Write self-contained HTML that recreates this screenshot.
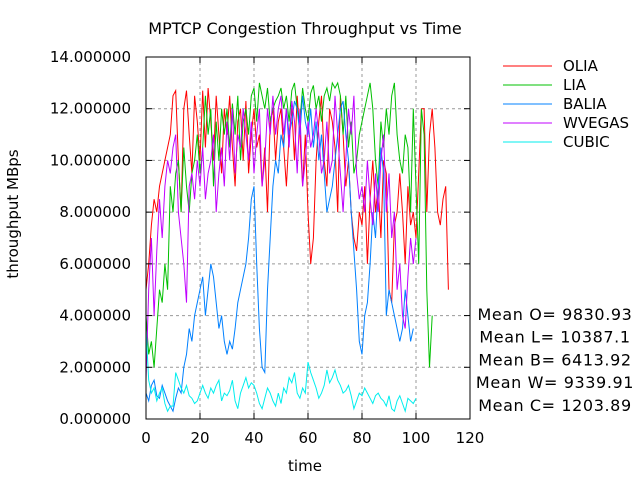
<!DOCTYPE html>
<html><head><meta charset="utf-8"><style>
body{margin:0;background:#fff}
svg{display:block;font-family:"DejaVu Sans","Liberation Sans",sans-serif}
</style></head><body>
<svg id="chart" width="640" height="480">
<rect width="640" height="480" fill="#fff"/>
<text x="305" y="34" text-anchor="middle" font-size="16">MPTCP Congestion Throughput vs Time</text>
<g id="grid"></g>
<g id="series"></g>
<rect x="146" y="57" width="324" height="362" fill="none" stroke="#000" stroke-width="1"/>
<g id="ticks"></g>
<text x="305" y="471" text-anchor="middle" font-size="15">time</text>
<text transform="translate(18,214) rotate(-90)" text-anchor="middle" font-size="15">throughput MBps</text>
<g id="legend"></g>
<g id="means" font-size="16" letter-spacing="0.6" text-anchor="middle"></g>
</svg>
<script>
const xTicks=[0,20,40,60,80,100,120];
const yTicks=[0,2,4,6,8,10,12,14];
const seriesNames=["OLIA","LIA","BALIA","WVEGAS","CUBIC"];
const seriesColors=["#ff0000","#00c000","#0080ff","#c000ff","#00eeee"];
const meanLabels=["Mean O= 9830.93","Mean L= 10387.1","Mean B= 6413.92","Mean W= 9339.91","Mean C= 1203.89"];
const olia=[5,6,7.5,8.5,8,9,9.5,10,10.5,11,12.5,12.7,10,8,12,12.7,11,9.5,12.5,11.5,10,12.7,10.5,12.8,11.5,10,12.5,11,9.5,12,11,12.5,10.5,9,11.5,12,10,12.3,9.5,11,12,10.5,11,9,10.5,8,11.5,12,10,11.5,12,10.5,9,11,12,10,12.5,11,9,11,8,6,7,10,11.5,12.5,10,9,12,11.5,10.5,8,12.5,11,9,10,8,7,6.5,8,7.5,9,6,8.5,10,8,9,7,10,9.5,5,4.5,7.5,8,9.5,8,6,9,7.5,8,7,9.5,12,12,8,11,12,10.5,8,7.5,8.5,9,5];
const lia=[4,2.5,3,2,3.5,5,4.5,6,5,9,8,9.5,10,8,10.5,9,8,9.5,10,11,9.5,10.5,12.5,11,12,9,11.5,10,12,11,12,10.5,12.2,11,12.5,10,11.5,12,11,12.5,12.8,11.5,13,12.5,12,12.8,11.5,12,12.3,12.5,12.8,12,12.5,11.5,12.7,13,12,11.5,12.8,12,11.5,12.6,12.9,12,12.5,11.5,12.5,12.8,12.3,13,12.8,13,12.5,11,12.5,10.5,11.5,9.5,10,11,11.5,12,12.5,13,12,10,9,11.5,10.5,12,11,12.5,13,11,10,9.5,11,10.5,8,12,9,6,12,11,5,2,4];
const balia=[1,0.7,1.3,1.5,0.9,0.8,1.3,1,0.7,0.5,0.3,0.8,1.2,1,2,2.5,3.5,3,4,4.5,5,5.5,4,5,6,5.5,4.5,3.5,4,3,2.5,3,2.7,3.5,4.5,5,5.5,6,7,8.5,9,6,3.5,2,1.8,5,7,9,10,9.5,11,10.5,12,11,11.5,12.3,12,11,12.5,11.5,11,12,10.5,11.5,10,11,9.5,8,8.5,9,10,11,12,12.3,11,10,8,6.5,5,3,2.5,4,4.5,6,8,7,9,10.5,9.5,4,5,4.5,4,3.5,3,3.5,5,4,3,3.5];
const wvegas=[1.5,5,7,4,6.5,8.5,7,9,10,9.5,10.5,11,8,7,6,4.5,9,9.5,8.5,10,9,10.5,8.5,9.5,10,11,8,9.5,10.5,9,11.5,10,12,9.5,11,10.5,12,11,10,11.5,9.5,11,12,9,10,12,11,12.5,11,12,12.5,11,12,10.5,12.3,11.5,9.5,12,9,10,11.5,10.5,11,12,11,9.5,10,11.5,9.5,10,12.5,11,9.5,8,10,12,11,12.5,9.5,8.5,9,8,10,8.5,7.5,9.5,8,10,11,8,9.5,7,8,5,6,4,3.5,5.5,7,6,7];
const cubic=[3.5,1.5,1,1.2,0.7,1,1.2,0.6,0.3,0.5,0.5,1.8,1.5,1.2,1,1.3,0.9,0.8,0.6,0.7,1,1.3,1,0.8,1.2,1,1.3,1.5,0.7,1,0.9,1.1,1.5,0.7,0.4,1,1.3,1.6,1.2,1.4,1.3,1,0.6,0.4,0.8,1.2,1,0.7,0.5,1,0.6,1.2,1,1.6,1.4,1.8,1,0.8,1.2,1,2.2,1.8,1.5,1.2,0.8,1,1.3,1.9,1.4,1.6,1.9,1.5,1.3,1,1.1,1.3,0.9,0.4,0.7,1,0.9,1.2,1,0.8,0.6,0.9,1,0.8,0.7,0.5,0.9,0.4,0.3,0.7,0.9,0.6,0.3,0.8,0.7,0.6,0.8];
const allSeries=[olia,lia,balia,wvegas,cubic];
const NS="http://www.w3.org/2000/svg";
const X0=146,X1=470,Y0=419,Y1=57;
function xs(v){return X0+(v-0)/(120-0)*(X1-X0);}
function ys(v){return Y0-(v-0)/(14-0)*(Y0-Y1);}
function mk(tag,attrs,parent){const e=document.createElementNS(NS,tag);for(const k in attrs)e.setAttribute(k,attrs[k]);parent.appendChild(e);return e;}
const grid=document.getElementById('grid'),ticks=document.getElementById('ticks');
xTicks.forEach(t=>{
  if(t>0&&t<120){const l=mk('line',{x1:xs(t),x2:xs(t),y1:Y0,y2:Y1,stroke:'#999','stroke-dasharray':'3,3'},grid);
  
  }
  mk('line',{x1:xs(t),x2:xs(t),y1:Y0,y2:Y0-6,stroke:'#000'},ticks);
  mk('line',{x1:xs(t),x2:xs(t),y1:Y1,y2:Y1+6,stroke:'#000'},ticks);
  const tx=mk('text',{x:xs(t),y:Y0+24,'text-anchor':'middle','font-size':'15'},ticks);
  tx.textContent=t;
  
  
});
yTicks.forEach(t=>{
  if(t>0&&t<14){const l=mk('line',{x1:X0,x2:X1,y1:ys(t),y2:ys(t),stroke:'#999','stroke-dasharray':'3,3'},grid);
  
  }
  mk('line',{x1:X0,x2:X0+6,y1:ys(t),y2:ys(t),stroke:'#000'},ticks);
  mk('line',{x1:X1,x2:X1-6,y1:ys(t),y2:ys(t),stroke:'#000'},ticks);
  const tx=mk('text',{x:131,y:ys(t)+5,'text-anchor':'end','font-size':'15'},ticks);
  tx.textContent=t.toFixed(6);
  
  
});
const sg=document.getElementById('series');
allSeries.forEach((arr,i)=>{
  let d='';
  arr.forEach((v,k)=>{d+=(k?'L':'M')+xs(k).toFixed(1)+','+ys(v).toFixed(1);});
  const p=mk('path',{d:d,fill:'none',stroke:seriesColors[i],'stroke-width':'1'},sg);
  
  
});
const lg=document.getElementById('legend');
seriesNames.forEach((n,i)=>{
  const y=66+i*19;
  const l=mk('line',{x1:503,x2:552,y1:y,y2:y,stroke:seriesColors[i]},lg);
  
  
  const t=mk('text',{x:563,y:y+5,'font-size':'15'},lg);
  t.textContent=n;
  
  
});
const mg=document.getElementById('means');
meanLabels.forEach((m,i)=>{
  const t=mk('text',{x:555,y:320+i*22.7},mg);
  t.textContent=m;
  
  
});
</script>
</body></html>
